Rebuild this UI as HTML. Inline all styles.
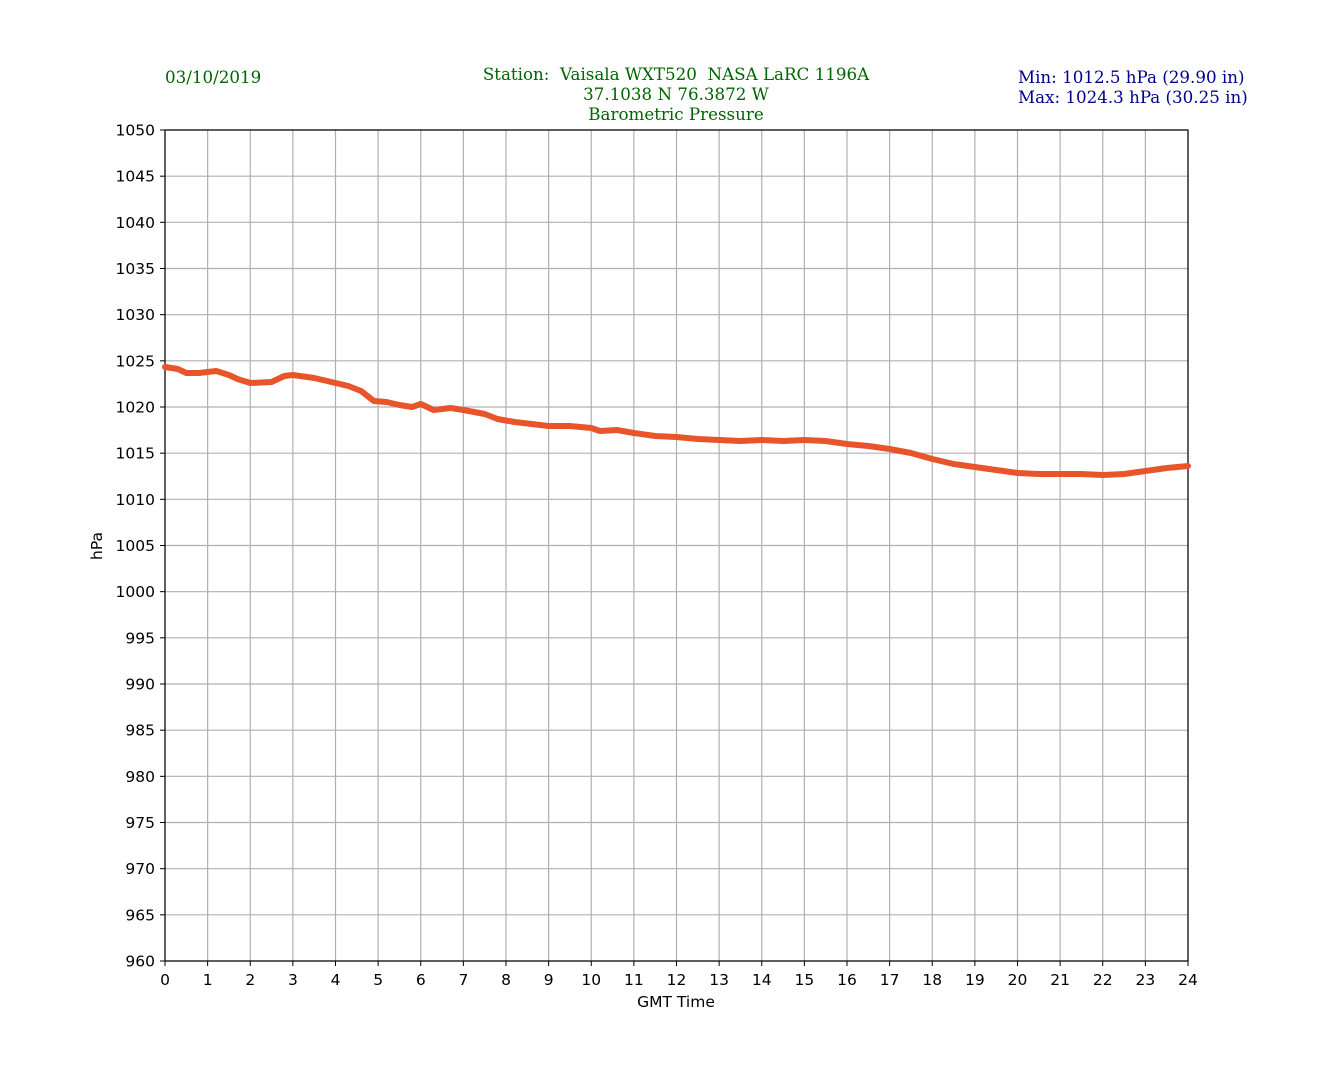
<!DOCTYPE html>
<html><head><meta charset="utf-8"><style>
body{margin:0;background:#fff;}
svg text{font-family:"DejaVu Sans","Liberation Sans",sans-serif;}
.s{font-family:"DejaVu Serif","Liberation Serif",serif !important;white-space:pre;}
</style></head><body>
<svg width="1320" height="1080" xmlns="http://www.w3.org/2000/svg">
<rect width="1320" height="1080" fill="#fff"/>
<g id="grid" stroke="#b0b0b0" stroke-width="1.2"></g>
<rect x="165" y="130" width="1023" height="831" fill="none" stroke="#000" stroke-width="1.2"/>
<g id="ticks" font-size="15.5" fill="#000"></g>
<polyline id="line" fill="none" stroke="#e8552a" stroke-width="6" stroke-linejoin="round" stroke-linecap="round"/>
<text x="676" y="1007" font-size="15.5" text-anchor="middle">GMT Time</text>
<text x="102" y="546" font-size="15.5" text-anchor="middle" transform="rotate(-90 102 546)">hPa</text>
<text class="s" x="165" y="83" font-size="16.7" fill="#006400">03/10/2019</text>
<text class="s" x="676" y="80" font-size="16.7" fill="#006400" text-anchor="middle" xml:space="preserve">Station:  Vaisala WXT520  NASA LaRC 1196A</text>
<text class="s" x="676" y="100" font-size="16.7" fill="#006400" text-anchor="middle">37.1038 N 76.3872 W</text>
<text class="s" x="676" y="120" font-size="16.7" fill="#006400" text-anchor="middle">Barometric Pressure</text>
<text class="s" x="1018" y="83" font-size="16.7" fill="#00008b">Min: 1012.5 hPa (29.90 in)</text>
<text class="s" x="1018" y="103" font-size="16.7" fill="#00008b">Max: 1024.3 hPa (30.25 in)</text>
</svg>
<script>
const ns="http://www.w3.org/2000/svg";
const g=document.getElementById('grid'),t=document.getElementById('ticks');
function el(p,n,a,txt){const e=document.createElementNS(ns,n);for(const k in a)e.setAttribute(k,a[k]);if(txt!==undefined)e.textContent=txt;p.appendChild(e);}
for(let h=0;h<=24;h++){const x=165+h*1023/24;el(g,'line',{x1:x,x2:x,y1:130,y2:961});
el(t,'line',{x1:x,x2:x,y1:961,y2:966,stroke:'#000'});el(t,'text',{x:x,y:985,'text-anchor':'middle'},h);}
for(let v=960;v<=1050;v+=5){const y=961-(v-960)*831/90;el(g,'line',{x1:165,x2:1188,y1:y,y2:y});
el(t,'line',{x1:160,x2:165,y1:y,y2:y,stroke:'#000'});el(t,'text',{x:155,y:y+5.5,'text-anchor':'end'},v);}
const d=[[0,367],[0.3,369],[0.5,373],[0.8,373],[1,372],[1.2,371],[1.5,375],[1.7,379],[2,383],[2.5,382],[2.8,376],[3,375],[3.5,378],[3.8,381],[4.3,386],[4.6,391],[4.9,401],[5.2,402],[5.5,405],[5.8,407],[6,404],[6.3,410],[6.7,408],[7,410],[7.5,414],[7.8,419],[8.2,422],[8.6,424],[9,426],[9.5,426],[10,428],[10.2,431],[10.6,430],[11,433],[11.5,436],[12,437],[12.5,439],[13,440],[13.5,441],[14,440],[14.5,441],[15,440],[15.5,441],[16,444],[16.5,446],[17,449],[17.5,453],[18,459],[18.5,464],[19,467],[19.5,470],[20,473],[20.5,474],[21,474],[21.5,474],[22,475],[22.5,474],[23,471],[23.5,468],[24,466]];
document.getElementById('line').setAttribute('points',d.map(p=>(165+p[0]*1023/24).toFixed(1)+','+p[1]).join(' '));
</script>
</body></html>
